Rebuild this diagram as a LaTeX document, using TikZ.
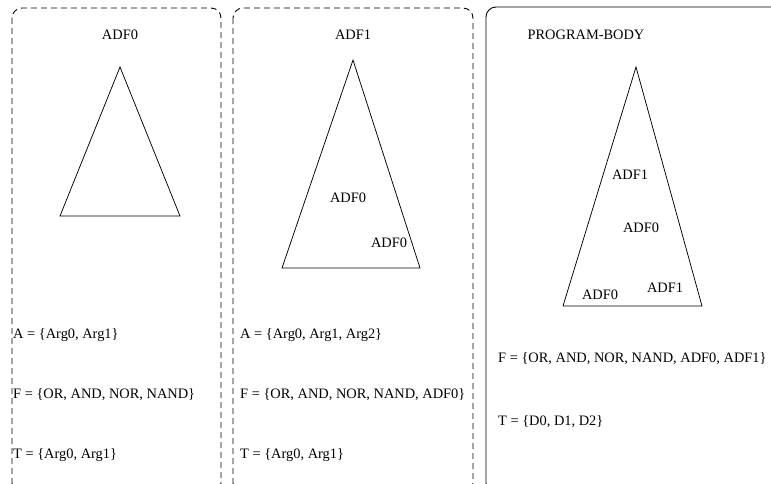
\documentclass[tikz,border=0pt]{standalone}
\usepackage{fontspec}
\setmainfont{Liberation Serif}
\begin{document}
\begin{tikzpicture}[x=1pt,y=-1pt,
  panel/.style={rounded corners=10pt, line width=0.9pt},
  dashpanel/.style={panel, dash pattern=on 6pt off 4pt},
  tri/.style={line width=0.75pt, line join=miter},
  lbl/.style={font=\fontsize{14.4}{16}\selectfont, inner sep=0pt},
  setlbl/.style={lbl, anchor=base west},
  title/.style={lbl, anchor=base}]
\useasboundingbox (0,0) rectangle (771,483);

% three panels: two dashed ADF panels and the solid main program panel
\draw[dashpanel] (12,8) rectangle (221,493);
\draw[dashpanel] (233,8) rectangle (473,493);
\draw[panel] (486,7) rectangle (795,493);

% ---- ADF0 ----
\node[title] (t0) at (120,39) {ADF0};
\coordinate (a0) at (120,67);
\coordinate (b0) at (60,216);
\coordinate (c0) at (180,216);
\draw[tri] (a0) -- (b0) -- (c0) -- cycle;
\node[setlbl] (A0) at (13,338) {A = \{Arg0, Arg1\}};
\node[setlbl] (F0) at (13,398) {F = \{OR, AND, NOR, NAND\}};
\node[setlbl] (T0) at (13,458) {T = \{Arg0, Arg1\}};

% ---- ADF1 ----
\node[title] (t1) at (353,39) {ADF1};
\coordinate (a1) at (353,60);
\coordinate (b1) at (282,268);
\coordinate (c1) at (420,268);
\draw[tri] (a1) -- (b1) -- (c1) -- cycle;
\node[title] (i10) at (348,202) {ADF0};
\node[title] (i11) at (389,247) {ADF0};
\node[setlbl] (A1) at (240,338) {A = \{Arg0, Arg1, Arg2\}};
\node[setlbl] (F1) at (240,398) {F = \{OR, AND, NOR, NAND, ADF0\}};
\node[setlbl] (T1) at (240,458) {T = \{Arg0, Arg1\}};

% ---- PROGRAM-BODY ----
\node[title] (tp) at (586,39) {PROGRAM-BODY};
\coordinate (ap) at (636,67);
\coordinate (bp) at (563,306);
\coordinate (cp) at (702,306);
\draw[tri] (ap) -- (bp) -- (cp) -- cycle;
\node[title] (ip0) at (630,179) {ADF1};
\node[title] (ip1) at (641,232) {ADF0};
\node[title] (ip2) at (600,299) {ADF0};
\node[title] (ip3) at (665,292) {ADF1};
\node[setlbl] (Fp) at (498,362) {F = \{OR, AND, NOR, NAND, ADF0, ADF1\}};
\node[setlbl] (Tp) at (498,425) {T = \{D0, D1, D2\}};
\end{tikzpicture}
\end{document}
